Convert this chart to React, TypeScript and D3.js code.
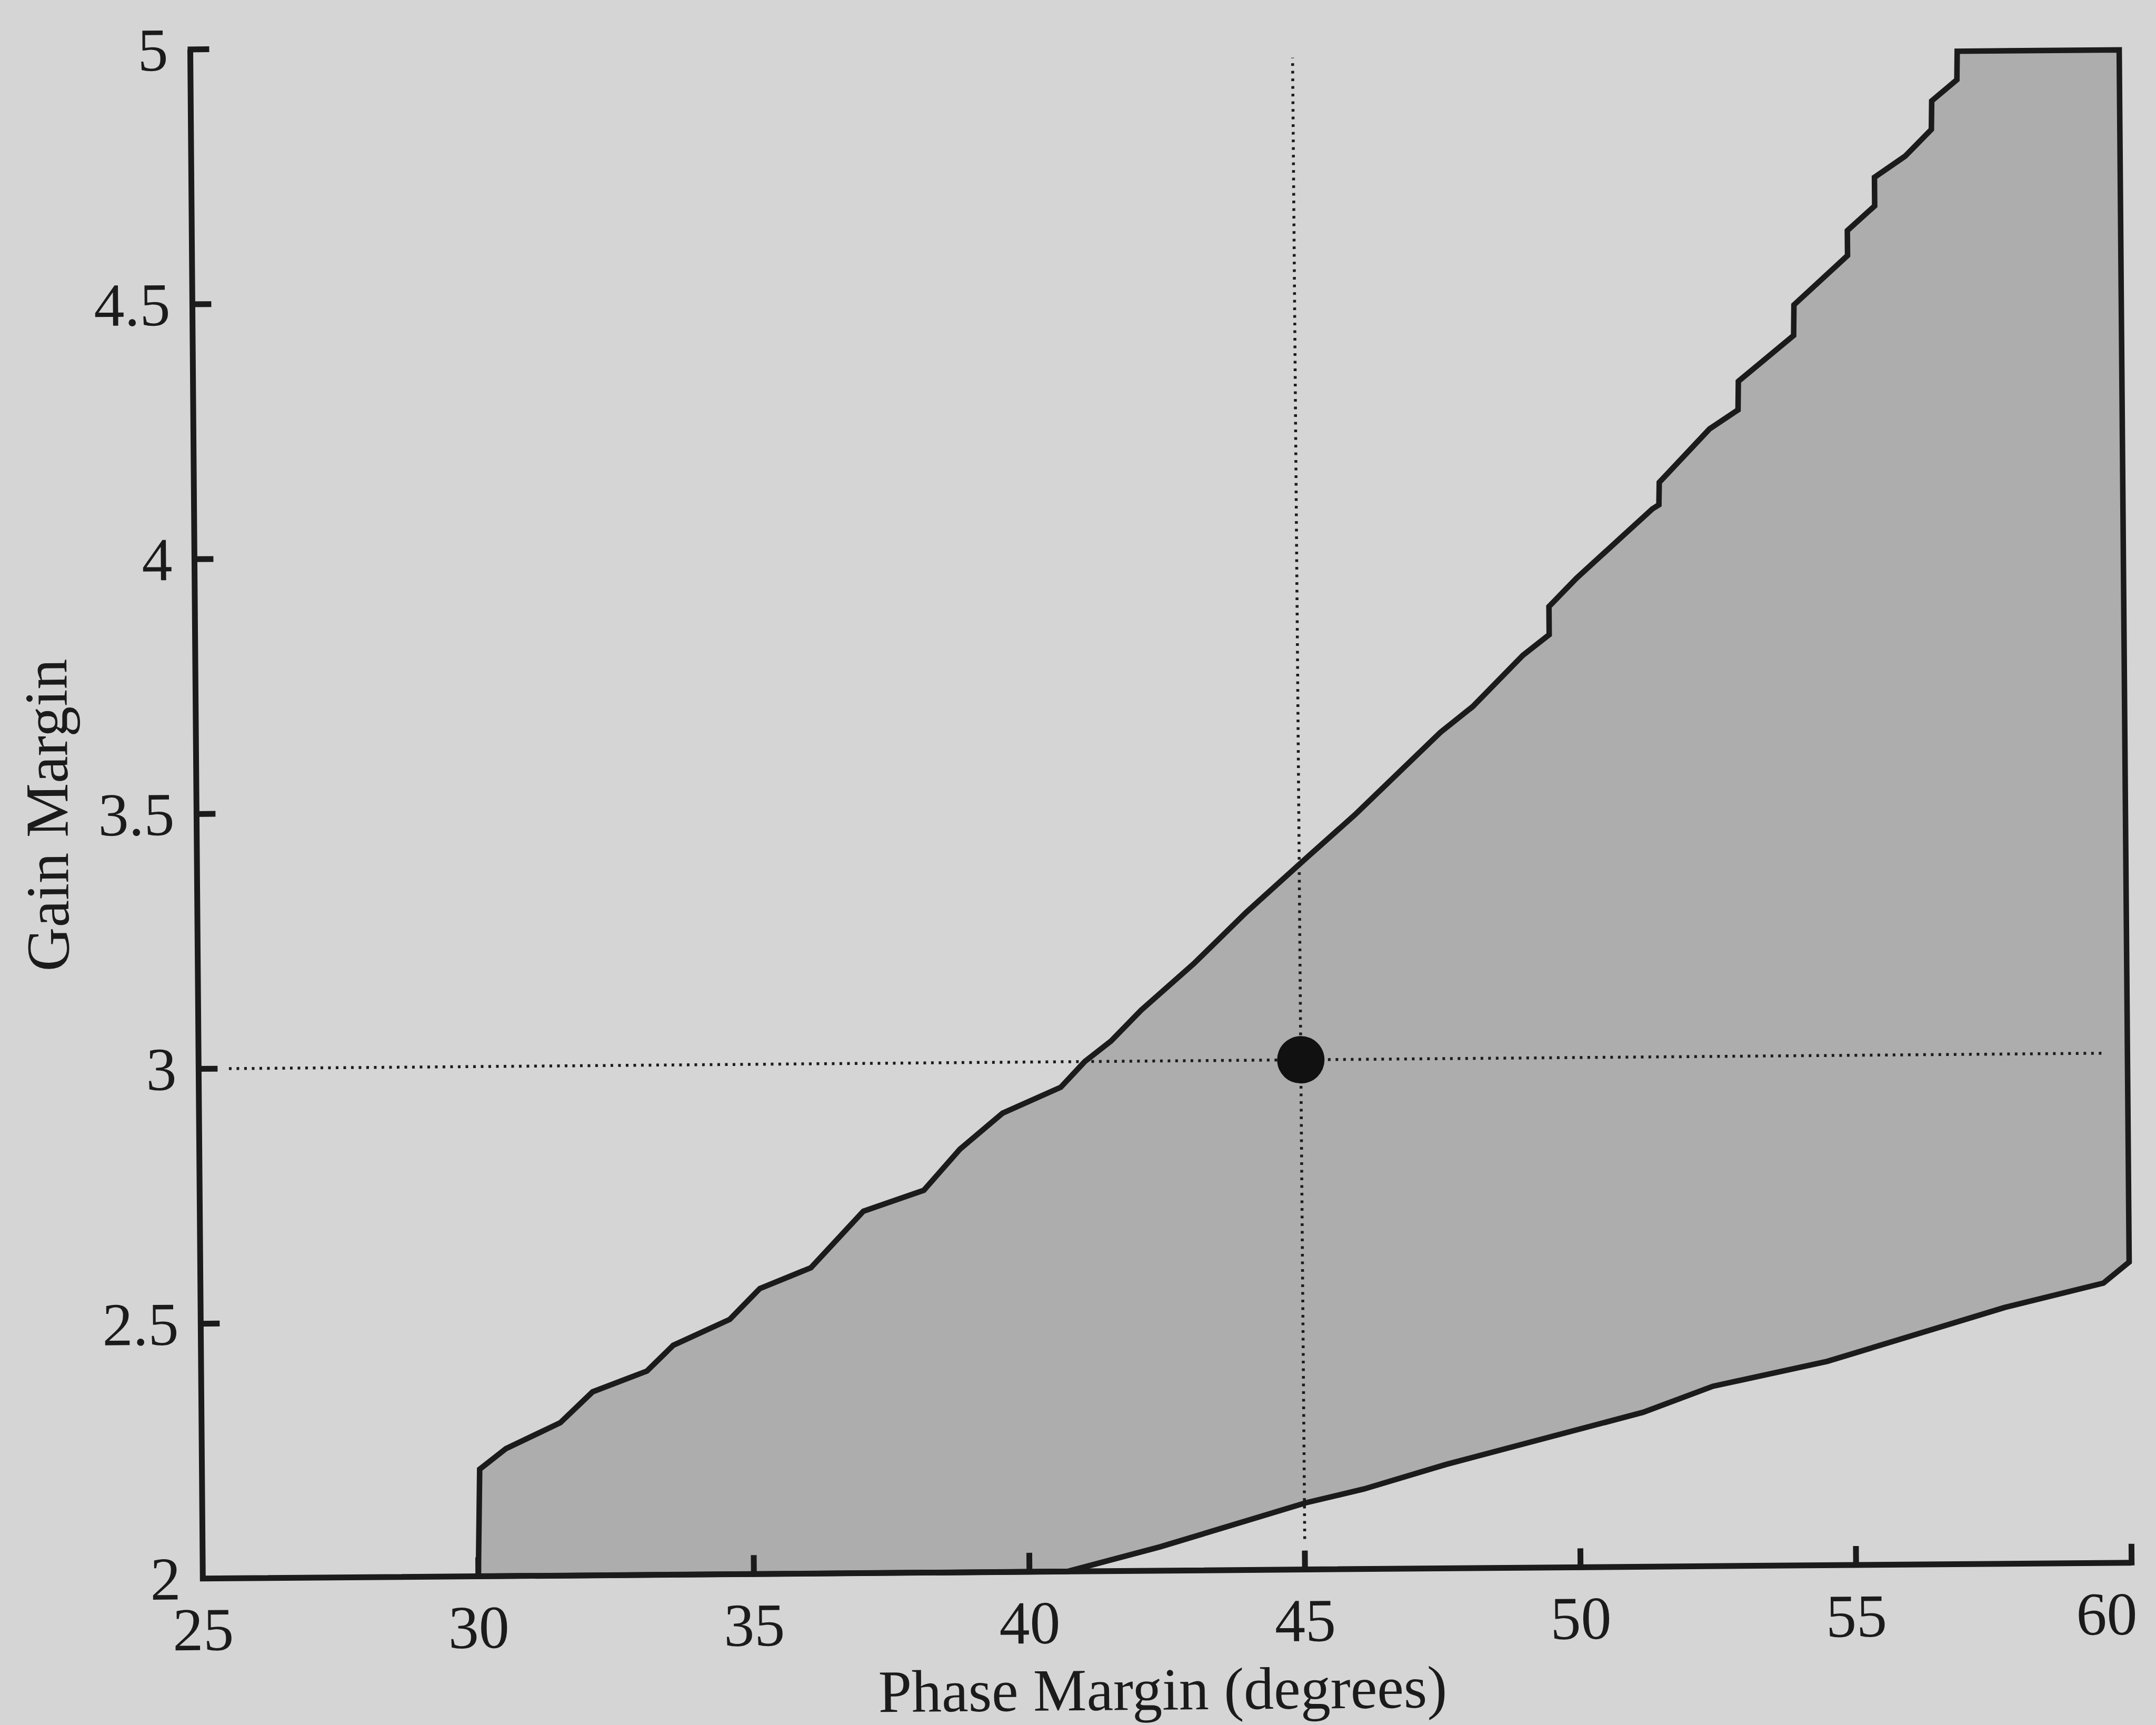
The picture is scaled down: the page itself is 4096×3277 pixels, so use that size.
import React from "react";
import * as d3 from "d3";

// Boundary of the shaded region (phase margin in degrees, gain margin)
const regionPM = [30, 30.04, 30.52, 31.51, 32.1, 33.09, 33.57, 34.6, 35.15, 36.08, 37.04, 38.14, 38.8, 39.58, 40.64, 41.08, 41.56, 42.11, 43.07, 44.03, 45.07, 46.02, 47.58, 48.17, 49.09, 49.57, 49.57, 50.07, 51.46, 51.58, 51.59, 52.51, 53.03, 53.04, 54.05, 54.06, 55.04, 55.04, 55.54, 55.54, 56.1, 56.58, 56.59, 57.05, 57.06, 60.0, 60.0, 59.53, 57.74, 54.51, 52.43, 51.16, 47.58, 46.08, 45.03, 42.38, 40.69];
const regionGM = [2.0, 2.21, 2.25, 2.3, 2.36, 2.4, 2.45, 2.5, 2.56, 2.6, 2.71, 2.75, 2.83, 2.9, 2.95, 3.0, 3.04, 3.1, 3.19, 3.29, 3.39, 3.48, 3.64, 3.69, 3.79, 3.83, 3.885, 3.94, 4.075, 4.083, 4.127, 4.231, 4.268, 4.324, 4.413, 4.473, 4.569, 4.618, 4.666, 4.722, 4.763, 4.815, 4.871, 4.912, 4.968, 4.968, 2.59, 2.549, 2.503, 2.4, 2.353, 2.303, 2.204, 2.157, 2.131, 2.047, 2.0];

// Design point and its guide lines
const designPM = [45];
const designGM = [3];
const hGuidePM = [25.55, 59.55];
const hGuideGM = [3, 3];
const vGuidePM = [45, 45];
const vGuideGM = [2.06, 4.966];

const xTicks = [25, 30, 35, 40, 45, 50, 55, 60];
const yTicks = [2, 2.5, 3, 3.5, 4, 4.5, 5];
const xTickLabels = ["25", "30", "35", "40", "45", "50", "55", "60"];
const yTickLabels = ["2", "2.5", "3", "3.5", "4", "4.5", "5"];
const xTitle = "Phase Margin (degrees)";
const yTitle = "Gain Margin";

export default function App() {
  const W = 4096;
  const H = 3277;
  const originX = 385.3;
  const originY = 2998.8;
  const x = d3.scaleLinear().domain([25, 60]).range([0, 3664.5]);
  const y = d3.scaleLinear().domain([2, 5]).range([0, -2905]);

  const pts: [number, number][] = regionPM.map((p, i) => [p, regionGM[i]]);
  const area = d3
    .line<[number, number]>()
    .x((d) => x(d[0]))
    .y((d) => y(d[1]));
  const polyPath = area(pts) + "Z";

  const font = "'Liberation Serif', 'Times New Roman', serif";
  const ink = "#1b1b1b";
  const fs = 116;
  const lastX = xTicks.length - 1;

  return (
    <svg
      width={W}
      height={H}
      style={{ position: "absolute", left: 0, top: 0, display: "block" }}
    >
      <rect x={0} y={0} width={W} height={H} fill="#d5d5d5" />
      <g transform={`translate(${originX},${originY}) rotate(-0.47)`}>
        <path
          d={polyPath}
          fill="#adadad"
          stroke={ink}
          strokeWidth={10.5}
          strokeLinejoin="miter"
        />
        <line
          x1={x(hGuidePM[0])}
          x2={x(hGuidePM[1])}
          y1={y(hGuideGM[0])}
          y2={y(hGuideGM[1])}
          stroke={ink}
          strokeWidth={5.5}
          strokeDasharray="5 9.5"
        />
        <line
          x1={x(vGuidePM[0])}
          x2={x(vGuidePM[1])}
          y1={y(vGuideGM[0])}
          y2={y(vGuideGM[1])}
          stroke={ink}
          strokeWidth={5.5}
          strokeDasharray="5 9.5"
        />
        {designPM.map((p, i) => (
          <circle key={i} cx={x(p)} cy={y(designGM[i])} r={45} fill="#111" />
        ))}
        {/* axes */}
        <path
          d={`M0,${y(5)} L0,${y(2)} L${x(60)},${y(2)}`}
          fill="none"
          stroke={ink}
          strokeWidth={11}
          strokeLinejoin="miter"
        />
        {xTicks.slice(1).map((t) => (
          <line
            key={"xt" + t}
            x1={x(t)}
            x2={x(t)}
            y1={y(2) + 5}
            y2={y(2) - 36}
            stroke={ink}
            strokeWidth={11}
          />
        ))}
        {yTicks.slice(1).map((t) => (
          <line
            key={"yt" + t}
            x1={-5}
            x2={36}
            y1={y(t)}
            y2={y(t)}
            stroke={ink}
            strokeWidth={11}
          />
        ))}
        {xTicks.map((t, i) => (
          <text
            key={"xl" + t}
            x={i === lastX ? x(t) + 10 : x(t)}
            y={136}
            textAnchor={i === lastX ? "end" : "middle"}
            fontFamily={font}
            fontSize={fs}
            fill={ink}
          >
            {xTickLabels[i]}
          </text>
        ))}
        {yTicks.map((t, i) => (
          <text
            key={"yl" + t}
            x={-42}
            y={y(t)}
            dy="0.34em"
            textAnchor="end"
            fontFamily={font}
            fontSize={fs}
            fill={ink}
          >
            {yTickLabels[i]}
          </text>
        ))}
        <text
          x={x(42.4)}
          y={264}
          textAnchor="middle"
          fontFamily={font}
          fontSize={114}
          fill={ink}
        >
          {xTitle}
        </text>
        <text
          transform={`translate(-245,${y(3.5)}) rotate(-90)`}
          textAnchor="middle"
          fontFamily={font}
          fontSize={fs}
          fill={ink}
        >
          {yTitle}
        </text>
      </g>
    </svg>
  );
}
